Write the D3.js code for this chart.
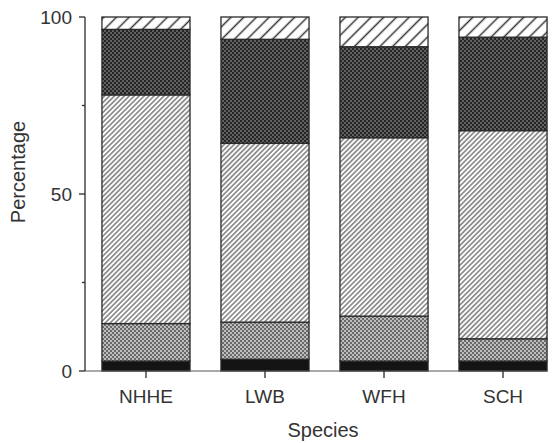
<!DOCTYPE html>
<html>
<head>
<meta charset="utf-8">
<script src="https://cdn.jsdelivr.net/npm/d3@7"></script>
<style>
  html, body { margin: 0; padding: 0; background: #fff; }
  svg { display: block; }
</style>
</head>
<body>
<svg id="chart" width="558" height="443"></svg>
<script>
const species = ['NHHE', 'LWB', 'WFH', 'SCH']
const layers = ['black', 'stippleLight', 'hatchFine', 'stippleDark', 'hatchOpen']
// segment sizes (%) bottom to top, per layer
const black = [2.8, 3.3, 2.8, 2.8]
const stippleLight = [10.6, 10.5, 12.7, 6.3]
const hatchFine = [64.6, 50.5, 50.4, 58.8]
const stippleDark = [18.5, 29.4, 25.7, 26.4]
const hatchOpen = [3.5, 6.3, 8.4, 5.7]
const yTicks = [0, 50, 100]
const yMinorTicks = [25, 75]

const rows = species.map((s, i) => ({
  species: s,
  black: black[i],
  stippleLight: stippleLight[i],
  hatchFine: hatchFine[i],
  stippleDark: stippleDark[i],
  hatchOpen: hatchOpen[i],
}))

const svg = d3.select('#chart')
const font = '"Liberation Sans", Arial, Helvetica, sans-serif'
const ink = '#2a2a2a'

// ── patterns ────────────────────────────────────────────
const defs = svg.append('defs')

function hatch(id, gap, sw, color) {
  const p = defs.append('pattern').attr('id', id)
    .attr('patternUnits', 'userSpaceOnUse')
    .attr('width', gap).attr('height', gap)
    .attr('patternTransform', 'rotate(45)')
  p.append('rect').attr('width', gap).attr('height', gap).attr('fill', '#fff')
  p.append('line').attr('x1', gap / 2).attr('x2', gap / 2).attr('y1', 0).attr('y2', gap)
    .attr('stroke', color).attr('stroke-width', sw)
}

function stipple(id, bg, dot) {
  const p = defs.append('pattern').attr('id', id)
    .attr('patternUnits', 'userSpaceOnUse')
    .attr('width', 4).attr('height', 4)
  p.append('rect').attr('width', 4).attr('height', 4).attr('fill', bg)
  p.append('rect').attr('x', 0).attr('y', 0).attr('width', 2).attr('height', 2).attr('fill', dot)
  p.append('rect').attr('x', 2).attr('y', 2).attr('width', 2).attr('height', 2).attr('fill', dot)
}

hatch('p-hatchFine', 3.5, 1.0, '#3a3a3a')
hatch('p-hatchOpen', 9, 1.5, '#333')
stipple('p-stippleLight', '#bdbdbd', '#6a6a6a')
stipple('p-stippleDark', '#606060', '#262626')

const fills = {
  black: '#141414',
  stippleLight: 'url(#p-stippleLight)',
  hatchFine: 'url(#p-hatchFine)',
  stippleDark: 'url(#p-stippleDark)',
  hatchOpen: 'url(#p-hatchOpen)',
}

// ── scales ──────────────────────────────────────────────
const y = d3.scaleLinear().domain([0, 100]).range([371, 17])
const x = d3.scaleBand().domain(species)
  .range([86, 563]).paddingInner(0.26).paddingOuter(0.134)

const stacked = d3.stack().keys(layers)(rows)

// ── bars ────────────────────────────────────────────────
const barsG = svg.append('g')
stacked.forEach(layer => {
  barsG.append('g').selectAll('rect')
    .data(layer)
    .join('rect')
    .attr('x', d => x(d.data.species))
    .attr('width', x.bandwidth())
    .attr('y', d => y(d[1]))
    .attr('height', d => y(d[0]) - y(d[1]))
    .attr('fill', fills[layer.key])
    .attr('stroke', ink).attr('stroke-width', 1.3)
})

// baseline
svg.append('line')
  .attr('x1', 85).attr('x2', x(species[species.length - 1]) + x.bandwidth())
  .attr('y1', y(0)).attr('y2', y(0))
  .attr('stroke', '#555').attr('stroke-width', 1)

// ── y axis ──────────────────────────────────────────────
const yAxis = svg.append('g').attr('transform', 'translate(85,0)')
yAxis.append('line')
  .attr('x1', 0).attr('x2', 0).attr('y1', y(100)).attr('y2', y(0))
  .attr('stroke', ink).attr('stroke-width', 1.3)
yAxis.selectAll('.major').data(yTicks).join('line').attr('class', 'major')
  .attr('x1', -6).attr('x2', 0).attr('y1', d => y(d)).attr('y2', d => y(d))
  .attr('stroke', ink).attr('stroke-width', 1.3)
yAxis.selectAll('.minor').data(yMinorTicks).join('line').attr('class', 'minor')
  .attr('x1', -3).attr('x2', 0).attr('y1', d => y(d)).attr('y2', d => y(d))
  .attr('stroke', ink).attr('stroke-width', 1.3)
yAxis.selectAll('text').data(yTicks).join('text')
  .attr('x', -13).attr('y', d => y(d)).attr('dy', '0.36em')
  .attr('text-anchor', 'end')
  .attr('font-family', font).attr('font-size', 19).attr('fill', '#333')
  .text(d => d)

// ── x axis ticks and labels ─────────────────────────────
const xAxis = svg.append('g')
xAxis.selectAll('line').data(species).join('line')
  .attr('x1', d => x(d) + x.bandwidth() / 2).attr('x2', d => x(d) + x.bandwidth() / 2)
  .attr('y1', y(0)).attr('y2', y(0) + 7)
  .attr('stroke', ink).attr('stroke-width', 1.3)
xAxis.selectAll('text').data(species).join('text')
  .attr('x', d => x(d) + x.bandwidth() / 2).attr('y', 403)
  .attr('text-anchor', 'middle')
  .attr('font-family', font).attr('font-size', 19).attr('fill', '#333')
  .text(d => d)

// ── titles ──────────────────────────────────────────────
svg.append('text')
  .attr('x', 323).attr('y', 437)
  .attr('text-anchor', 'middle')
  .attr('font-family', font).attr('font-size', 20).attr('fill', '#333')
  .text('Species')

svg.append('text')
  .attr('transform', 'translate(25,172) rotate(-90)')
  .attr('text-anchor', 'middle')
  .attr('font-family', font).attr('font-size', 20).attr('fill', '#333')
  .text('Percentage')
</script>
</body>
</html>
